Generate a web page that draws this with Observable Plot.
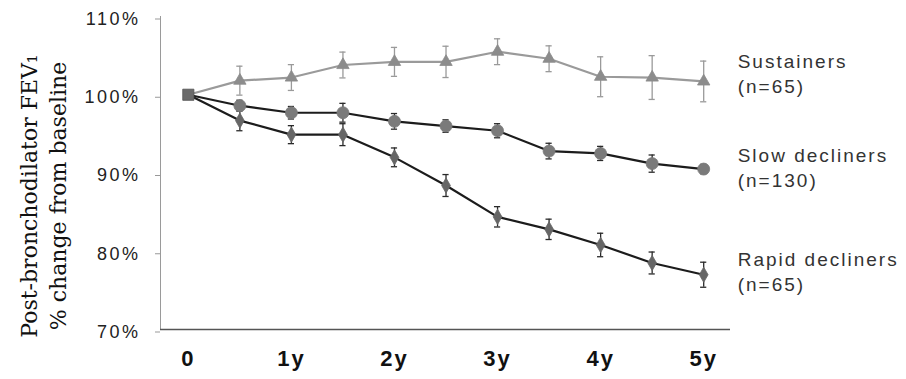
<!DOCTYPE html>
<html>
<head>
<meta charset="utf-8">
<script src="https://cdn.jsdelivr.net/npm/d3@7"></script>
<script src="https://cdn.jsdelivr.net/npm/@observablehq/plot@0.6"></script>
<style>
  html, body { margin: 0; padding: 0; background: #fff; }
</style>
</head>
<body>
<div id="chart"></div>
<script>
// ---- data ----
const times = [0, 0.5, 1, 1.5, 2, 2.5, 3, 3.5, 4, 4.5, 5];
const xTicks = [0, 1, 2, 3, 4, 5];
const xTickLabels = ["0", "1y", "2y", "3y", "4y", "5y"];
const yTicks = [70, 80, 90, 100, 110];

const seriesNames = ["Sustainers", "Slow decliners", "Rapid decliners"];
const seriesN = ["(n=65)", "(n=130)", "(n=65)"];

const sustainers    = [100, 101.8, 102.2, 103.8, 104.2, 104.2, 105.5, 104.6, 102.3, 102.2, 101.7];
const sustainersErr = [0, 1.85, 1.65, 1.65, 1.85, 2.0, 1.65, 1.65, 2.55, 2.8, 2.6];
const slow          = [100, 98.6, 97.7, 97.7, 96.6, 96.0, 95.4, 92.8, 92.5, 91.2, 90.5];
const slowErr       = [0, 0.7, 0.8, 1.2, 1.0, 0.8, 0.9, 1.0, 0.9, 1.1, 0.6];
const rapid         = [100, 96.7, 94.9, 94.9, 92.0, 88.4, 84.4, 82.8, 80.8, 78.5, 77.0];
const rapidErr      = [0, 1.3, 1.15, 1.4, 1.2, 1.4, 1.3, 1.3, 1.5, 1.4, 1.6];

// ---- build tables ----
const valueSets = [sustainers, slow, rapid];
const errSets = [sustainersErr, slowErr, rapidErr];
const rows = [];
seriesNames.forEach((name, s) => {
  times.forEach((t, i) => {
    rows.push({series: name, s, i, t, v: valueSets[s][i], e: errSets[s][i]});
  });
});

const styles = [
  {line: "#9a9a9a", bar: "#9a9a9a", fill: "#8c8c8c", symbol: "triangle", r: 4.6, labelDy: -9},
  {line: "#1c1c1c", bar: "#2a2a2a", fill: "#7a7a7a", symbol: "circle", r: 6, labelDy: -3},
  {line: "#1c1c1c", bar: "#2a2a2a", fill: "#666666", symbol: "diamond", r: 4.6, labelDy: -4}
];

const sans = "'Liberation Sans', Arial, Helvetica, sans-serif";
const capHalf = 0.03; // half-width of error bar caps, in years

const marks = [];
// axis lines
marks.push(Plot.ruleX([-0.27], {stroke: "#9a9a9a", strokeWidth: 1}));
marks.push(Plot.ruleY([70], {stroke: "#555", strokeWidth: 1.5}));

seriesNames.forEach((name, s) => {
  const st = styles[s];
  const data = rows.filter(d => d.s === s);
  const withErr = data.filter(d => d.i > 0);
  marks.push(Plot.ruleX(withErr, {x: "t", y1: d => d.v - d.e, y2: d => d.v + d.e, stroke: st.bar, strokeWidth: 1.3}));
  marks.push(Plot.ruleY(withErr, {x1: d => d.t - capHalf, x2: d => d.t + capHalf, y: d => d.v - d.e, stroke: st.bar, strokeWidth: 1.3}));
  marks.push(Plot.ruleY(withErr, {x1: d => d.t - capHalf, x2: d => d.t + capHalf, y: d => d.v + d.e, stroke: st.bar, strokeWidth: 1.3}));
});
seriesNames.forEach((name, s) => {
  const st = styles[s];
  const data = rows.filter(d => d.s === s);
  marks.push(Plot.line(data, {x: "t", y: "v", stroke: st.line, strokeWidth: 2.2}));
});
seriesNames.forEach((name, s) => {
  const st = styles[s];
  const data = rows.filter(d => d.s === s && d.i > 0);
  marks.push(Plot.dot(data, {x: "t", y: "v", symbol: () => st.symbol, r: st.r, fill: st.fill, stroke: st.fill, strokeWidth: 0.8}));
});
// shared baseline square
marks.push(Plot.dot(rows.filter(d => d.i === 0 && d.s === 0), {x: "t", y: "v", symbol: () => "square", r: 6.3, fill: "#6a6a6a", stroke: "#555", strokeWidth: 0.8}));

// series labels at right
seriesNames.forEach((name, s) => {
  const st = styles[s];
  const last = rows.filter(d => d.s === s && d.i === times.length - 1);
  marks.push(Plot.text(last, {
    x: "t", y: "v", text: () => name + "\n" + seriesN[s],
    textAnchor: "start", lineAnchor: "middle", lineHeight: 1.32,
    dx: 34, dy: st.labelDy, fontSize: 19, fill: "#333", fontFamily: sans,
    className: "series-label"
  }));
});

// axes
marks.push(Plot.axisY({
  ticks: yTicks, tickFormat: d => d + "%", tickSize: 5, tickPadding: 15,
  fontSize: 18, stroke: "#999", fill: "#222", dy: 2.5, label: null, fontFamily: sans
}));
marks.push(Plot.axisX({
  ticks: xTicks, tickFormat: d => xTickLabels[xTicks.indexOf(d)], tickSize: 0, tickPadding: 21,
  fontSize: 22, fontWeight: "bold", fill: "#111", label: null, fontFamily: sans
}));

// y-axis title (two lines, rotated)
marks.push(Plot.text(["Post-bronchodilator FEV\u2081\n% change from baseline"], {
  frameAnchor: "left", rotate: -90, textAnchor: "middle", lineAnchor: "middle",
  lineHeight: 1.3, dx: -118, dy: 23, fontSize: 22, fill: "#111",
  fontFamily: "'DejaVu Serif', 'Liberation Serif', serif"
}));

const chart = Plot.plot({
  width: 906,
  height: 379,
  marginLeft: 160,
  marginRight: 176,
  marginTop: 16,
  marginBottom: 50,
  x: {domain: [-0.27, 5.26]},
  y: {domain: [70, 110]},
  style: {background: "#fff", fontFamily: sans, overflow: "visible"},
  marks
});

d3.select(chart).selectAll('g[aria-label="y-axis tick label"]').style("letter-spacing", "2.5px");
d3.select(chart).selectAll('g[aria-label="x-axis tick label"]').style("letter-spacing", "2px");
d3.select(chart).selectAll('g[aria-label="text"]').filter(function () {
  return this.textContent.includes("(n=");
}).style("letter-spacing", "2px");
document.getElementById("chart").append(chart);
</script>
</body>
</html>
